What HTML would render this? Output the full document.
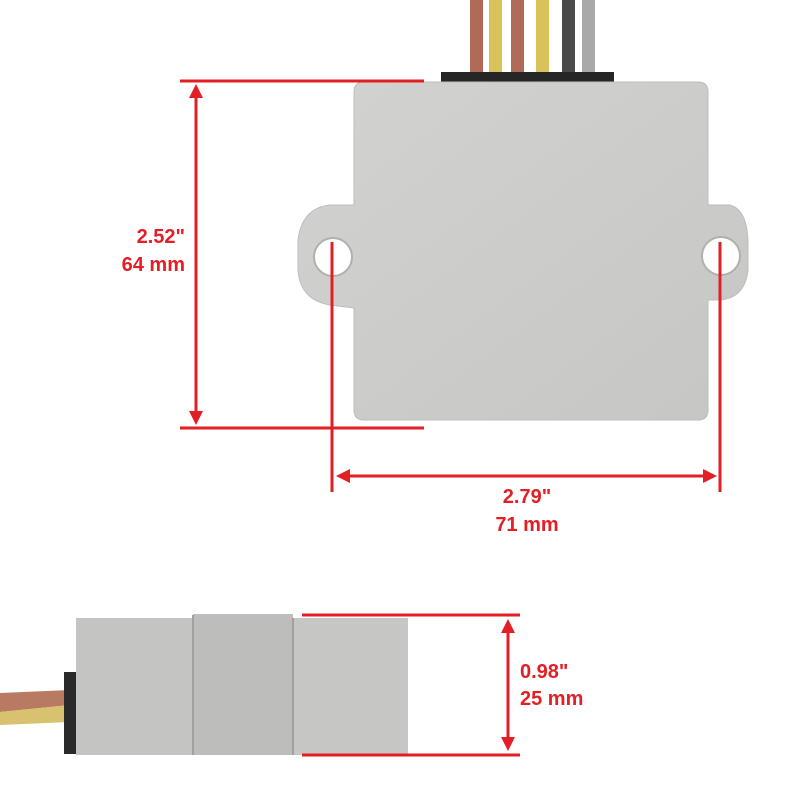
<!DOCTYPE html>
<html><head><style>
html,body{margin:0;padding:0;background:#fff;}
svg{display:block;}
text{font-family:"Liberation Sans",sans-serif;font-weight:bold;fill:#e31e24;font-size:20px;}
</style></head><body>
<svg width="800" height="800" viewBox="0 0 800 800" xmlns="http://www.w3.org/2000/svg">
<defs>
<linearGradient id="al" x1="0" y1="0" x2="1" y2="1">
<stop offset="0" stop-color="#d2d2d0"/><stop offset="1" stop-color="#c6c6c4"/>
</linearGradient>
</defs>
<!-- wires -->
<rect x="470" y="0" width="13" height="74" fill="#b06a58"/>
<rect x="489" y="0" width="13" height="74" fill="#d9c25a"/>
<rect x="511" y="0" width="13" height="74" fill="#b06a58"/>
<rect x="536" y="0" width="13" height="74" fill="#d9c25a"/>
<rect x="562" y="0" width="13" height="74" fill="#4a4a4a"/>
<rect x="582" y="0" width="13" height="74" fill="#a9a9a9"/>
<rect x="441" y="72" width="173" height="12" fill="#262626"/>
<!-- top plate -->
<path d="M364,82 L698,82 Q708,82 708,92 L708,205 L730,205 Q748,210 748,245 L748,270 Q745,298 720,300 L708,300 L708,410 Q708,420 698,420 L364,420 Q354,420 354,410 L354,308 L330,305 Q300,300 298,270 L298,240 Q302,208 330,205 L354,205 L354,92 Q354,82 364,82 Z" fill="url(#al)" stroke="#bdbdbb" stroke-width="1"/>
<circle cx="333" cy="257" r="19" fill="#fff" stroke="#b0b0ae" stroke-width="2"/>
<circle cx="721" cy="256" r="19" fill="#fff" stroke="#b0b0ae" stroke-width="2"/>
<!-- bottom block -->
<path d="M0,693 L70,690 L70,705 L0,712 Z" fill="#b97a62"/>
<path d="M0,712 L70,705 L70,722 L0,725 Z" fill="#d8c270"/>
<rect x="64" y="672" width="14" height="82" fill="#2a2a2a"/>
<rect x="76" y="618" width="117" height="137" fill="#c4c4c2"/>
<rect x="193" y="614" width="100" height="141" fill="#bdbdbb"/>
<rect x="293" y="618" width="115" height="137" fill="#c6c6c4"/>
<line x1="193" y1="615" x2="193" y2="755" stroke="#a0a09e" stroke-width="2"/>
<line x1="293" y1="618" x2="293" y2="755" stroke="#a0a09e" stroke-width="2"/>
<!-- red dimension lines -->
<g stroke="#e31e24" stroke-width="3" fill="none">
<line x1="180" y1="81" x2="424" y2="81"/>
<line x1="180" y1="428" x2="424" y2="428"/>
<line x1="196" y1="92" x2="196" y2="418"/>
<line x1="332" y1="242" x2="332" y2="492"/>
<line x1="720" y1="242" x2="720" y2="492"/>
<line x1="345" y1="476" x2="708" y2="476"/>
<line x1="302" y1="615" x2="520" y2="615"/>
<line x1="302" y1="755" x2="520" y2="755"/>
<line x1="508" y1="628" x2="508" y2="742"/>
</g>
<g fill="#e31e24">
<polygon points="196,84 189,98 203,98"/>
<polygon points="196,425 189,411 203,411"/>
<polygon points="336,476 350,469 350,483"/>
<polygon points="717,476 703,469 703,483"/>
<polygon points="508,619 501,633 515,633"/>
<polygon points="508,751 501,737 515,737"/>
</g>
<text x="185" y="243" text-anchor="end">2.52"</text>
<text x="185" y="271" text-anchor="end">64 mm</text>
<text x="527" y="503" text-anchor="middle">2.79"</text>
<text x="527" y="531" text-anchor="middle">71 mm</text>
<text x="520" y="678">0.98"</text>
<text x="520" y="705">25 mm</text>
</svg>
</body></html>
